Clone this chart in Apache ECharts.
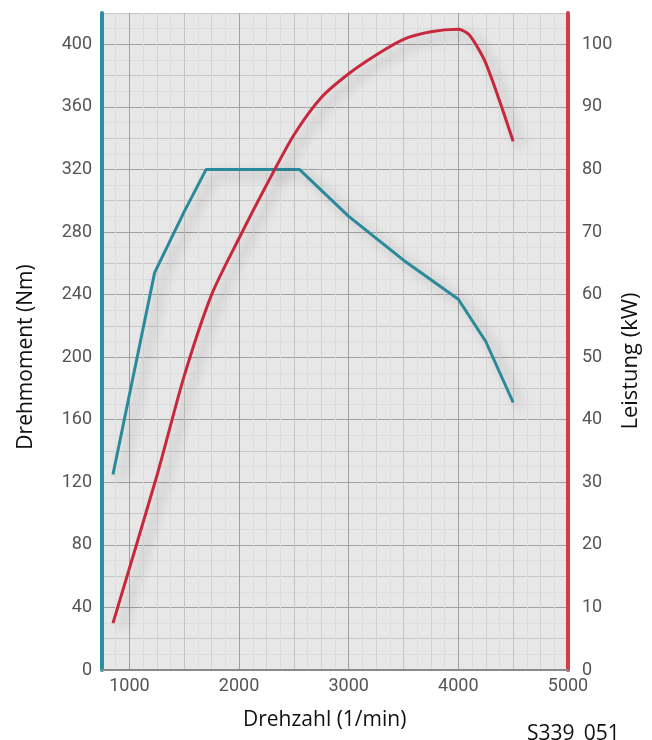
<!DOCTYPE html>
<html>
<head>
<meta charset="utf-8">
<script src="https://cdn.jsdelivr.net/npm/echarts@6/dist/echarts.min.js"></script>
<style>
html,body{margin:0;padding:0;background:#fff;}
#c{width:652px;height:740px;}
</style>
</head>
<body>
<div id="c"></div>
<script>
// Torque curve (Nm) vs engine speed (1/min)
var torqueRpm = [850, 1230, 1500, 1700, 2550, 3000, 3500, 4000, 4250, 4500];
var torqueNm  = [125, 254, 293, 320, 320, 290, 262, 237, 210, 171];
// Power curve (kW) vs engine speed (1/min)
var powerRpm = [850, 1250, 1500, 1750, 2000, 2250, 2500, 2750, 3000, 3250, 3500, 3750, 4000, 4100, 4250, 4500];
var powerKw  = [7.5, 31, 47, 60, 69, 77.5, 85.5, 91.5, 95.3, 98.3, 100.8, 102, 102.4, 101.5, 97, 84.5];
// Tick labels
var xTicks = [1000, 2000, 3000, 4000, 5000];
var yLeftTicks = [0, 40, 80, 120, 160, 200, 240, 280, 320, 360, 400];
var yRightTicks = [0, 10, 20, 30, 40, 50, 60, 70, 80, 90, 100];

function zip(a, b) { return a.map(function (v, i) { return [v, b[i]]; }); }

var chart = echarts.init(document.getElementById('c'));
var labelStyle = { color: '#555', fontSize: 18, fontFamily: 'Roboto' };

chart.setOption({
  backgroundColor: '#fff',
  animation: false,
  grid: { left: 102, right: 84, top: 13, bottom: 70, show: true, backgroundColor: '#e7e7e7', borderWidth: 0 },
  xAxis: {
    type: 'value', min: 750, max: 5000, interval: 250,
    axisLine: { show: true, lineStyle: { color: '#8a8a8a', width: 2 } },
    axisTick: { show: false },
    axisLabel: Object.assign({ margin: 7, formatter: function (v) { return xTicks.indexOf(v) >= 0 ? String(v) : ''; } }, labelStyle),
    splitLine: { show: true, lineStyle: { color: ['#d2d2d2', '#a0a0a0', '#d2d2d2', '#c4c4c4'], width: 1 } },
    minorTick: { show: false, splitNumber: 2 },
    minorSplitLine: { show: true, lineStyle: { color: '#dddddd', width: 1 } }
  },
  yAxis: [
    {
      type: 'value', min: 0, max: 420, interval: 20, position: 'left',
      axisLine: { show: true, lineStyle: { color: '#2b8fa3', width: 4 } },
      axisTick: { show: false },
      axisLabel: Object.assign({ margin: 10, formatter: function (v) { return yLeftTicks.indexOf(v) >= 0 ? String(v) : ''; } }, labelStyle),
      splitLine: { show: true, lineStyle: { color: ['#a0a0a0', '#c8c8c8'], width: 1 } },
      minorTick: { show: false, splitNumber: 2 },
      minorSplitLine: { show: true, lineStyle: { color: '#dddddd', width: 1 } }
    },
    {
      type: 'value', min: 0, max: 105, interval: 10, position: 'right',
      axisLine: { show: true, lineStyle: { color: '#d33a4a', width: 4 } },
      axisTick: { show: false },
      axisLabel: Object.assign({ margin: 14, formatter: function (v) { return yRightTicks.indexOf(v) >= 0 ? String(v) : ''; } }, labelStyle),
      splitLine: { show: false }
    }
  ],
  graphic: [
    { type: 'text', x: 26, y: 357, rotation: Math.PI / 2, style: { text: 'Drehmoment (Nm)', fill: '#111', font: '21px "Open Sans"', align: 'center', verticalAlign: 'middle' } },
    { type: 'text', x: 631, y: 361, rotation: Math.PI / 2, style: { text: 'Leistung (kW)', fill: '#111', font: '22px "Open Sans"', align: 'center', verticalAlign: 'middle' } },
    { type: 'text', left: 243, top: 710, style: { text: 'Drehzahl (1/min)', fill: '#111', font: '21px "Open Sans"' } },
    { type: 'text', left: 527, top: 724, style: { text: 'S339_051', fill: '#111', font: '21px "Open Sans"' } }
  ],
  series: [
    {
      type: 'line', yAxisIndex: 0, data: zip(torqueRpm, torqueNm), symbol: 'none',
      lineStyle: { color: '#2a8a9c', width: 3, shadowColor: 'rgba(0,0,0,0.28)', shadowBlur: 12, shadowOffsetX: 8, shadowOffsetY: 6 }
    },
    {
      type: 'line', yAxisIndex: 1, data: zip(powerRpm, powerKw), symbol: 'none', smooth: 0.25,
      lineStyle: { color: '#c8283c', width: 3, shadowColor: 'rgba(0,0,0,0.28)', shadowBlur: 12, shadowOffsetX: 8, shadowOffsetY: 6 }
    }
  ]
});
</script>
</body>
</html>
